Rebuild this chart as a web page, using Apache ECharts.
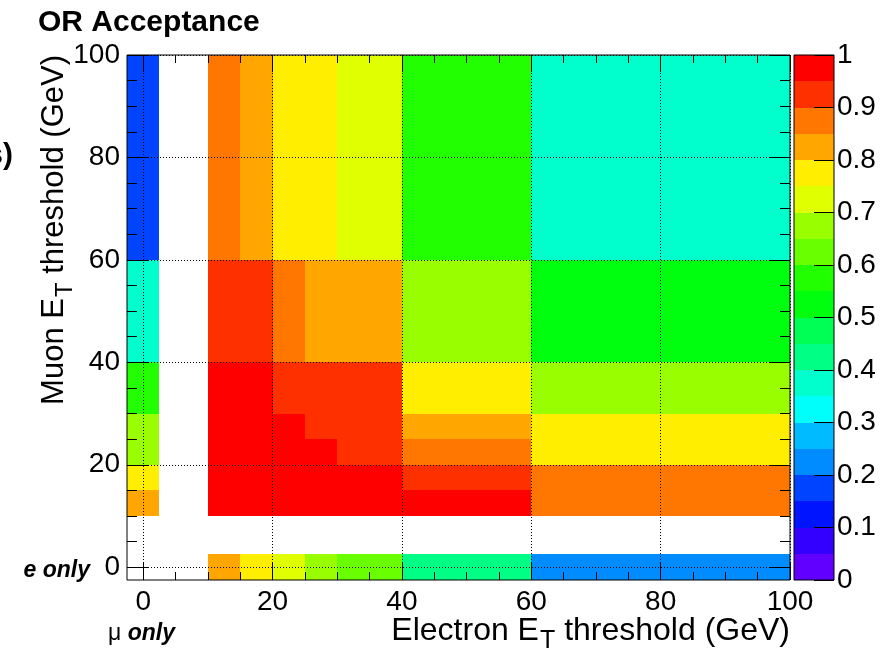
<!DOCTYPE html>
<html>
<head>
<meta charset="utf-8">
<script src="https://cdn.jsdelivr.net/npm/echarts@6/dist/echarts.min.js"></script>
<style>html,body{margin:0;padding:0;background:#fff}#c{width:891px;height:651px}</style>
</head>
<body>
<div id="c"></div>
<script>
// ---- data ----
// bin edges (GeV); first bin = "only" column/row, second bin = empty gap
const xEdges = [-2.5, 2.5, 10, 15, 20, 25, 30, 40, 60, 100];
const yEdges = [-2.5, 2.5, 10, 15, 20, 25, 30, 40, 60, 100];
// acceptance per cell, one array per muon-threshold row (bottom to top), columns = electron bins (left to right)
const rowEOnly = [null, null, 0.82, 0.77, 0.72, 0.67, 0.62, 0.42, 0.22];
const rowGap   = [null, null, null, null, null, null, null, null, null];
const rowMu10  = [0.82, null, 0.97, 0.97, 0.97, 0.97, 0.97, 0.97, 0.87];
const rowMu15  = [0.77, null, 0.97, 0.97, 0.97, 0.97, 0.97, 0.92, 0.87];
const rowMu20  = [0.67, null, 0.97, 0.97, 0.97, 0.97, 0.92, 0.87, 0.77];
const rowMu25  = [0.67, null, 0.97, 0.97, 0.97, 0.92, 0.92, 0.82, 0.77];
const rowMu30  = [0.57, null, 0.97, 0.97, 0.92, 0.92, 0.92, 0.77, 0.67];
const rowMu40  = [0.37, null, 0.92, 0.92, 0.87, 0.82, 0.82, 0.67, 0.52];
const rowMu60  = [0.17, null, 0.87, 0.82, 0.77, 0.77, 0.72, 0.57, 0.37];
const acceptanceRows = [rowEOnly, rowGap, rowMu10, rowMu15, rowMu20, rowMu25, rowMu30, rowMu40, rowMu60];

const majorTicks = [0, 20, 40, 60, 80, 100];
const minorTicks = [5, 10, 15, 25, 30, 35, 45, 50, 55, 65, 70, 75, 85, 90, 95];

const paletteLevels = [0, 0.05, 0.1, 0.15, 0.2, 0.25, 0.3, 0.35, 0.4, 0.45, 0.5,
                       0.55, 0.6, 0.65, 0.7, 0.75, 0.8, 0.85, 0.9, 0.95, 1];
const paletteColors = ['#6200ff', '#3300ff', '#0014ff', '#0044ff', '#008bff',
                       '#00bbff', '#00fffb', '#00ffcc', '#00ff85', '#00ff55',
                       '#00ff0e', '#22ff00', '#69ff00', '#99ff00', '#e0ff00',
                       '#ffee00', '#ffa700', '#ff7700', '#ff3000', '#ff0000'];

// ---- build series data ----
const cells = [];
acceptanceRows.forEach((row, j) => {
  row.forEach((v, i) => {
    if (v !== null) cells.push([xEdges[i], xEdges[i + 1], yEdges[j], yEdges[j + 1], v]);
  });
});
const barCells = [];
for (let k = 0; k < paletteColors.length; k++) {
  barCells.push([0, 1, paletteLevels[k], paletteLevels[k + 1], (paletteLevels[k] + paletteLevels[k + 1]) / 2]);
}

const FONT = '"Liberation Sans", Arial, Helvetica, sans-serif';

function rectItem(params, api) {
  const a = api.coord([api.value(0), api.value(3)]);
  const b = api.coord([api.value(1), api.value(2)]);
  const x0 = Math.round(a[0]), y0 = Math.round(a[1]);
  const x1 = Math.round(b[0]), y1 = Math.round(b[1]);
  return { type: 'rect', shape: { x: x0, y: y0, width: x1 - x0, height: y1 - y0 },
           style: { fill: api.visual('color') } };
}

function mkAxis(dim, pos, ticks, len, withLabels, withSplit) {
  return {
    type: 'value', gridIndex: 0, position: pos, min: -2.5, max: 100, z: 10,
    axisLine: { show: false, onZero: false },
    axisTick: { show: true, inside: true, length: len, customValues: ticks,
                lineStyle: { color: '#000', width: 1 } },
    axisLabel: { show: withLabels, customValues: ticks, color: '#000', fontSize: 28,
                 fontFamily: FONT, margin: dim === 'x' ? 8 : 7 },
    splitLine: { show: withSplit, lineStyle: { color: '#000', width: 1, type: [1, 2] } },
    minorTick: { show: false }, minorSplitLine: { show: false }
  };
}

const xTitleRich = {
  b: { fontSize: 32, height: 32, fontFamily: FONT, fill: '#000', verticalAlign: 'top' },
  s: { fontSize: 25, height: 25, fontFamily: FONT, fill: '#000', verticalAlign: 'top', padding: [14, 0, 0, 1] }
};
const yTitleRich = {
  b: { fontSize: 31, height: 31, fontFamily: FONT, fill: '#000', verticalAlign: 'top' },
  s: { fontSize: 24, height: 24, fontFamily: FONT, fill: '#000', verticalAlign: 'top', padding: [14, 0, 0, 1] }
};

const option = {
  animation: false,
  backgroundColor: '#fff',
  grid: [
    { left: 127, top: 55, width: 663, height: 525, show: true, borderColor: '#000', borderWidth: 1,
      backgroundColor: 'transparent', z: 10, outerBoundsMode: 'none', containLabel: false },
    { left: 794, top: 55, width: 40, height: 525, show: true, borderColor: '#000', borderWidth: 1,
      backgroundColor: 'transparent', z: 10, outerBoundsMode: 'none', containLabel: false }
  ],
  xAxis: [
    mkAxis('x', 'bottom', majorTicks, 17, true, true),
    mkAxis('x', 'bottom', minorTicks, 8, false, false),
    mkAxis('x', 'top', majorTicks, 17, false, false),
    mkAxis('x', 'top', minorTicks, 8, false, false),
    { type: 'value', gridIndex: 1, min: 0, max: 1, show: false }
  ],
  yAxis: [
    mkAxis('y', 'left', majorTicks, 21, true, true),
    mkAxis('y', 'left', minorTicks, 10, false, false),
    mkAxis('y', 'right', majorTicks, 21, false, false),
    mkAxis('y', 'right', minorTicks, 10, false, false),
    { type: 'value', gridIndex: 1, position: 'right', min: 0, max: 1, interval: 0.1, z: 10,
      axisLine: { show: false, onZero: false },
      axisTick: { show: true, inside: true, length: 20, lineStyle: { color: '#000', width: 1 } },
      axisLabel: { color: '#000', fontSize: 28, fontFamily: FONT, margin: 3,
                   formatter: v => String(+(+v).toFixed(2)) },
      splitLine: { show: false } }
  ],
  visualMap: {
    type: 'piecewise', show: false, dimension: 4, seriesIndex: [0, 1],
    pieces: paletteColors.map((c, k) => (k === paletteColors.length - 1
      ? { gte: paletteLevels[k], lte: paletteLevels[k + 1], color: c }
      : { gte: paletteLevels[k], lt: paletteLevels[k + 1], color: c }))
  },
  series: [
    { type: 'custom', name: 'OR Acceptance', xAxisIndex: 0, yAxisIndex: 0,
      encode: { x: [0, 1], y: [2, 3] }, data: cells, renderItem: rectItem, silent: true },
    { type: 'custom', name: 'palette', xAxisIndex: 4, yAxisIndex: 4,
      encode: { x: [0, 1], y: [2, 3] }, data: barCells, renderItem: rectItem, silent: true }
  ],
  graphic: [
    { type: 'text', x: 38, y: 23, style: { text: 'OR Acceptance', font: 'bold 30px ' + FONT,
      fill: '#000', align: 'left', verticalAlign: 'middle' } },
    { type: 'text', x: 13, y: 156, style: { text: 's)', font: 'bold 30px ' + FONT,
      fill: '#000', align: 'right', verticalAlign: 'middle' } },
    { type: 'text', x: 790, y: 615, style: { text: '{b|Electron E}{s|T}{b| threshold (GeV)}',
      rich: xTitleRich, align: 'right', verticalAlign: 'top' } },
    { type: 'text', x: 39, y: 55, rotation: Math.PI / 2, style: { text: '{b|Muon E}{s|T}{b| threshold (GeV)}',
      rich: yTitleRich, align: 'right', verticalAlign: 'top' } },
    { type: 'text', x: 90, y: 571, style: { text: 'e only', font: 'italic bold 23px ' + FONT,
      fill: '#000', align: 'right', verticalAlign: 'middle' } },
    { type: 'text', x: 108, y: 634, style: { text: '{m|μ}{o| only}', align: 'left', verticalAlign: 'middle',
      rich: { m: { fontSize: 23, fontFamily: FONT, fill: '#000' },
              o: { fontSize: 23, fontFamily: FONT, fontStyle: 'italic', fontWeight: 'bold', fill: '#000' } } } }
  ]
};

const chart = echarts.init(document.getElementById('c'), null, { renderer: 'canvas' });
chart.setOption(option);
</script>
</body>
</html>
